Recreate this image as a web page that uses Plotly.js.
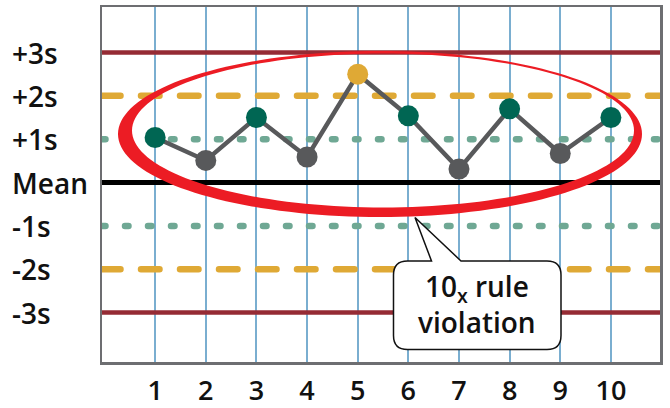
<!DOCTYPE html>
<html>
<head>
<meta charset="utf-8">
<script src="https://cdn.plot.ly/plotly-3.0.1.min.js"></script>
<style>
  html, body { margin: 0; padding: 0; background: #fff; }
  #chart { width: 670px; height: 408px; }
  path.js-line { stroke-linecap: round !important; }
</style>
</head>
<body>
<div id="chart"></div>
<script>
// ---- data ----
const runs = [1, 2, 3, 4, 5, 6, 7, 8, 9, 10];
const values = [1.04, 0.51, 1.50, 0.59, 2.50, 1.54, 0.31, 1.70, 0.67, 1.50];
const levels = [3, 2, 1, 0, -1, -2, -3];
const levelLabels = ['+3s', '+2s', '+1s', 'Mean', '-1s', '-2s', '-3s'];
const calloutText = '10<sub>x</sub> rule<br>violation';

// ---- layout geometry ----
const W = 670, H = 408;
const M = { l: 102, r: 10, t: 7, b: 46 };
const PW = W - M.l - M.r, PH = H - M.t - M.b;
const xRange = [-0.05, 10.97];
const yRange = [-4.14, 4.05];
const FONT = 'Open Sans, Lato, DejaVu Sans, sans-serif';

const px = x => (x - M.l) / PW;
const py = y => (M.t + PH - y) / PH;
const P = (x, y) => px(x).toFixed(5) + ',' + py(y).toFixed(5);

// colours of markers derived from the value zones
const markerColors = values.map(v => v >= 2 ? '#dfa935' : (v >= 1 ? '#006653' : '#58595b'));

function levelStyle(l) {
  const a = Math.abs(l);
  if (a === 0) return { color: '#000000', width: 5, dash: 'solid' };
  if (a === 1) return { color: '#6fa894', width: 6.5, dash: '3.5px,19.5px' };
  if (a === 2) return { color: '#dfa935', width: 6.5, dash: '18.5px,20.5px' };
  return { color: '#952b34', width: 4.5, dash: 'solid' };
}

const traces = [];
levels.forEach(l => {
  traces.push({
    x: [xRange[0], xRange[1]], y: [l, l], mode: 'lines',
    line: levelStyle(l), hoverinfo: 'skip', showlegend: false
  });
});
traces.push({
  x: runs, y: values, mode: 'lines+markers',
  line: { color: '#58595b', width: 4.5 },
  marker: { size: 21, color: markerColors, line: { width: 0 } },
  showlegend: false
});

// ---- red ellipse (crescent-like brush stroke) ----
function ellipsePts(cx, cy, rx, ry, n, reverse) {
  const pts = [];
  for (let i = 0; i < n; i++) {
    let t = 2 * Math.PI * i / n;
    if (reverse) t = -t;
    pts.push([cx + rx * Math.cos(t), cy + ry * Math.sin(t)]);
  }
  return pts;
}
const outer = ellipsePts(380, 134, 262, 83, 160, false);
const inner = ellipsePts(383, 130.5, 251, 77, 160, true);
let ellPath = 'M' + outer.map(p => P(p[0], p[1])).join('L') + 'Z ' +
              'M' + inner.map(p => P(p[0], p[1])).join('L') + 'Z';

// ---- callout bubble ----
const bx0 = 393.5, bx1 = 561, by0 = 261, by1 = 349.5, r = 14;
const tip = [415, 217.5], pb0 = 431.5, pb1 = 461;
const calloutPath =
  'M' + P(bx0 + r, by0) +
  'L' + P(pb0, by0) + 'L' + P(tip[0], tip[1]) + 'L' + P(pb1, by0) +
  'L' + P(bx1 - r, by0) +
  'Q' + P(bx1, by0) + ' ' + P(bx1, by0 + r) +
  'L' + P(bx1, by1 - r) +
  'Q' + P(bx1, by1) + ' ' + P(bx1 - r, by1) +
  'L' + P(bx0 + r, by1) +
  'Q' + P(bx0, by1) + ' ' + P(bx0, by1 - r) +
  'L' + P(bx0, by0 + r) +
  'Q' + P(bx0, by0) + ' ' + P(bx0 + r, by0) + 'Z';

const annotations = levels.map((l, i) => ({
  xref: 'paper', yref: 'y', x: px(10), y: l, xanchor: 'left', yanchor: 'middle',
  text: levelLabels[i], showarrow: false,
  font: { family: FONT, size: 28, color: '#111', weight: 600 }
}));
annotations.push({
  xref: 'paper', yref: 'paper', x: px((bx0 + bx1) / 2), y: py((by0 + by1) / 2 - 1),
  xanchor: 'center', yanchor: 'middle', text: calloutText, showarrow: false,
  align: 'center', font: { family: FONT, size: 28, color: '#111', weight: 600 }
});

const layout = {
  width: W, height: H,
  margin: M,
  paper_bgcolor: '#ffffff', plot_bgcolor: '#ffffff',
  showlegend: false,
  xaxis: {
    range: xRange, tickvals: runs, ticktext: runs.map(String),
    showgrid: true, gridcolor: '#7aaed0', gridwidth: 2,
    zeroline: false, showline: true, mirror: true,
    linecolor: '#6d6e71', linewidth: 2.5, ticks: '',
    tickfont: { family: FONT, size: 27, color: '#111', weight: 600 },
    ticklabelstandoff: 3, fixedrange: true
  },
  yaxis: {
    range: yRange, showgrid: false, zeroline: false,
    showline: true, mirror: true, linecolor: '#6d6e71', linewidth: 2.5,
    showticklabels: false, ticks: '', fixedrange: true
  },
  shapes: [
    { type: 'path', xref: 'paper', yref: 'paper', path: ellPath,
      fillcolor: '#ec1c24', line: { width: 0 }, layer: 'above', fillrule: 'evenodd' },
    { type: 'path', xref: 'paper', yref: 'paper', path: calloutPath,
      fillcolor: '#ffffff', line: { color: '#111', width: 1.5 }, layer: 'above' }
  ],
  annotations: annotations
};

Plotly.newPlot('chart', traces, layout, { staticPlot: true, displayModeBar: false });
</script>
</body>
</html>
